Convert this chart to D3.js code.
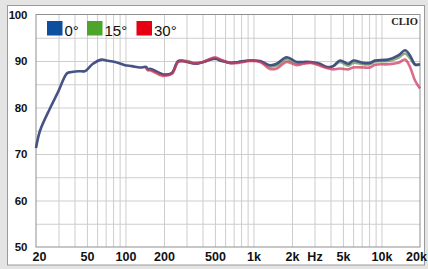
<!DOCTYPE html>
<html lang="en">
<head>
    <meta charset="UTF-8">
    <title>Frequency Response</title>
    <script src="https://cdn.jsdelivr.net/npm/d3@7"></script>
    <style>
        body { margin: 0; background: #e4e4e4; }
        svg { display: block; }
        .lbl { font-family: "Liberation Sans", Arial, sans-serif; font-weight: bold; fill: #111; }
    </style>
</head>
<body>
<div id="chart"></div>
<script>
    // tick values and labels
    const dbTicks = [50, 60, 70, 80, 90, 100];
    const freqTicks = [20, 50, 100, 200, 500, 1000, 2000, 5000, 10000, 20000];
    const freqLabels = ["20", "50", "100", "200", "500", "1k", "2k", "5k", "10k", "20k"];
    const seriesNames = ["0°", "15°", "30°"];

    // 0° response
    const freq0 = [20, 21.5, 25.7, 29.7, 34.8, 37, 42.6, 48, 50, 55.7, 65, 71, 83, 99, 112, 130, 145, 150, 155, 186, 197, 230, 259, 301, 349, 406, 500, 565, 656, 761, 939, 1125, 1346, 1518, 1818, 2177, 2450, 2800, 3310, 3730, 4200, 4740, 5500, 6020, 7210, 8120, 8900, 11300, 13540, 15280, 16720, 18280, 20000];
    const db0 = [71.3, 75.0, 79.8, 83.3, 87.3, 87.6, 87.8, 87.8, 88.1, 89.4, 90.3, 90.1, 89.8, 89.1, 88.9, 88.6, 88.7, 88.2, 88.3, 87.4, 87.1, 87.4, 90.0, 89.8, 89.4, 89.8, 90.5, 90.0, 89.6, 89.8, 90.1, 90.0, 89.1, 89.4, 90.8, 89.8, 89.8, 89.8, 89.4, 88.7, 88.9, 90.1, 89.4, 90.1, 89.6, 89.6, 90.1, 90.3, 91.2, 92.3, 91.2, 89.3, 89.3];

    // 15° and 30° responses (start around 145 Hz)
    const freqOff = [145, 150, 155, 186, 197, 230, 259, 301, 349, 406, 500, 565, 656, 761, 939, 1125, 1346, 1518, 1818, 2177, 2450, 2800, 3310, 3730, 4200, 4740, 5500, 6020, 7210, 8120, 8900, 11300, 13540, 15280, 16720, 18280, 20000];
    const db15 = [88.6, 88.1, 88.2, 87.2, 87.0, 87.3, 89.9, 90.0, 89.6, 89.8, 90.6, 90.1, 89.6, 89.7, 90.1, 89.9, 88.8, 89.0, 90.4, 89.5, 89.6, 89.7, 89.2, 88.7, 88.9, 89.8, 89.0, 89.6, 89.3, 89.3, 89.9, 90.0, 90.7, 91.6, 90.6, 89.2, 89.2];
    const db30 = [88.5, 88.0, 88.0, 87.0, 86.8, 87.2, 89.8, 89.9, 89.5, 89.8, 90.8, 90.2, 89.6, 89.6, 90.0, 89.8, 88.3, 88.4, 89.8, 89.1, 89.4, 89.6, 89.0, 88.5, 88.2, 88.4, 88.2, 88.6, 88.6, 88.6, 89.2, 89.3, 89.6, 90.3, 88.7, 85.8, 84.1];

    const W = 428, H = 269;
    const plotL = 36, plotR = 420, plotT = 14.5, plotB = 247;

    const svg = d3.select("#chart").append("svg")
        .attr("width", W)
        .attr("height", H);

    // outer panel
    svg.append("rect")
        .attr("x", 7.5).attr("y", 5.5)
        .attr("width", 417).attr("height", 259.5)
        .attr("fill", "#fff")
        .attr("stroke", "#9a9a9a");

    const x = d3.scaleLog().domain([20, 20000]).range([plotL, plotR]);
    const y = d3.scaleLinear().domain([50, 100]).range([plotB, plotT]);

    // grid lines
    const minorFreqs = [];
    [10, 100, 1000, 10000].forEach(dec => {
        for (let k = 1; k <= 9; k++) {
            const f = dec * k;
            if (f > 20 && f < 20000) minorFreqs.push(f);
        }
    });
    const dbGrid = d3.range(55, 100, 5);

    const grid = svg.append("g");
    grid.append("g")
        .attr("transform", `translate(0,${plotB})`)
        .call(d3.axisBottom(x).tickValues(minorFreqs).tickSize(-(plotB - plotT)).tickFormat(""))
        .call(g => g.select(".domain").remove())
        .call(g => g.selectAll("line").attr("stroke", "#cdcdcd"));
    grid.append("g")
        .attr("transform", `translate(${plotL},0)`)
        .call(d3.axisLeft(y).tickValues(dbGrid).tickSize(-(plotR - plotL)).tickFormat(""))
        .call(g => g.select(".domain").remove())
        .call(g => g.selectAll("line").attr("stroke", "#cdcdcd"));

    // plot frame
    svg.append("rect")
        .attr("x", plotL).attr("y", plotT)
        .attr("width", plotR - plotL).attr("height", plotB - plotT)
        .attr("fill", "none")
        .attr("stroke", "#8f8f8f");

    // y labels
    svg.append("g")
        .attr("transform", `translate(27,0)`)
        .call(d3.axisLeft(y).tickValues(dbTicks).tickSize(0).tickPadding(0))
        .call(g => g.select(".domain").remove())
        .call(g => g.selectAll("text")
            .attr("class", "lbl")
            .attr("font-size", "11.5px")
            .attr("letter-spacing", "-0.3px"));

    // x labels
    svg.append("g")
        .attr("transform", `translate(0,${plotB})`)
        .call(d3.axisBottom(x).tickValues(freqTicks).tickSize(0).tickPadding(5)
            .tickFormat((d, i) => freqLabels[i]))
        .call(g => g.select(".domain").remove())
        .call(g => g.selectAll("text")
            .attr("class", "lbl")
            .attr("font-size", "12.5px")
            .attr("dx", (d, i) => i === 0 ? 3 : (i === freqTicks.length - 1 ? -4 : 0)));

    svg.append("text")
        .attr("class", "lbl")
        .attr("x", 315).attr("y", plotB + 14)
        .attr("text-anchor", "middle")
        .attr("font-size", "12.5px")
        .text("Hz");

    svg.append("text")
        .attr("x", 418).attr("y", 25)
        .attr("text-anchor", "end")
        .attr("font-family", "'Liberation Serif', 'DejaVu Serif', serif")
        .attr("font-weight", "bold")
        .attr("font-size", "10.5px")
        .attr("fill", "#222")
        .text("CLIO");

    // curves
    const line = d3.line()
        .x(d => x(d[0]))
        .y(d => y(d[1]))
        .curve(d3.curveCatmullRom.alpha(0.5));

    const curves = [
        { pts: freqOff.map((f, i) => [f, db15[i]]), color: "#6f9a5a", op: 0.8 },
        { pts: freq0.map((f, i) => [f, db0[i]]), color: "#3c4a7e", op: 0.95 },
        { pts: freqOff.map((f, i) => [f, db30[i]]), color: "#cf3b62", op: 0.75 }
    ];

    svg.append("g")
        .selectAll("path")
        .data(curves)
        .enter().append("path")
        .attr("d", d => line(d.pts))
        .attr("fill", "none")
        .attr("stroke", d => d.color)
        .attr("stroke-opacity", d => d.op)
        .attr("stroke-width", 2.6)
        .attr("stroke-linejoin", "round");

    // legend
    const legendColors = ["#0d4f9e", "#4ea52b", "#e60012"];
    const legendX = [47, 87, 136.5];
    const legend = svg.append("g")
        .selectAll("g")
        .data(seriesNames)
        .enter().append("g")
        .attr("transform", (d, i) => `translate(${legendX[i]},21)`);
    legend.append("rect")
        .attr("width", 15.5).attr("height", 14.5)
        .attr("fill", (d, i) => legendColors[i]);
    legend.append("text")
        .attr("x", 17.5).attr("y", 14.5)
        .attr("font-family", "'Liberation Sans', Arial, sans-serif")
        .attr("font-size", "15px")
        .attr("fill", "#111")
        .text(d => d);
</script>
</body>
</html>
